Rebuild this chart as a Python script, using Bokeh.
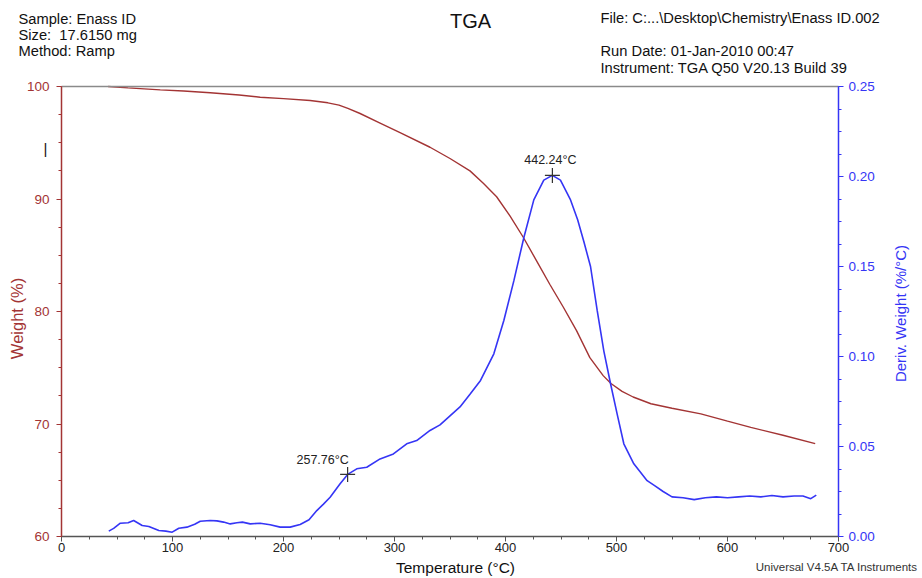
import math
from bokeh.plotting import figure
from bokeh.models import (Range1d, LinearAxis, SingleIntervalTicker,
                          FixedTicker, PrintfTickFormatter, Label)
from bokeh.embed import file_html
from bokeh.resources import INLINE

# ---------------- data ----------------
temp_w = [42, 60, 89, 110, 134, 160, 179, 200, 224, 240, 250, 258, 269, 287,
          305, 332, 350, 368, 380, 392, 404, 416, 428, 440, 452, 464, 476,
          488, 495, 505, 515, 531, 550, 576, 600, 621, 650, 679]
weight = [100.0, 99.88, 99.70, 99.60, 99.44, 99.25, 99.05, 98.92, 98.76,
          98.55, 98.35, 98.05, 97.60, 96.75, 95.90, 94.60, 93.60, 92.50,
          91.40, 90.20, 88.50, 86.60, 84.50, 82.40, 80.40, 78.30, 75.90,
          74.30, 73.60, 72.90, 72.40, 71.80, 71.40, 70.90, 70.25, 69.70,
          69.00, 68.25]

temp_d = [42.6, 47, 53, 60, 65, 72.7, 78.7, 87.7, 94, 99.7, 105.7, 113, 120,
          125, 134, 140, 146, 152, 158, 163, 170, 179, 188, 197, 206, 215,
          223, 230, 236, 242, 251, 257.8, 266, 275, 287, 299, 311, 320, 332,
          341, 350, 359, 368, 377.5, 389.5, 398.5, 407.5, 416.5, 425.5, 434.5,
          442.2, 449.5, 458.6, 465, 470.5, 476.6, 482.6, 488.6, 494.6, 500.6,
          506.6, 515.6, 527.6, 535, 542, 550, 560, 570, 580, 590, 600, 610,
          620, 630, 640, 650, 660, 668, 675, 680]
deriv = [0.0030, 0.0045, 0.0074, 0.0076, 0.0089, 0.0061, 0.0056, 0.0033,
         0.0030, 0.0024, 0.0046, 0.0052, 0.0068, 0.0085, 0.0089, 0.0087,
         0.0080, 0.0070, 0.0076, 0.0080, 0.0070, 0.0074, 0.0065, 0.0052,
         0.0052, 0.0067, 0.0093, 0.0144, 0.0180, 0.0218, 0.0293, 0.0345,
         0.0376, 0.0385, 0.0431, 0.0459, 0.0515, 0.0533, 0.0589, 0.0620,
         0.0670, 0.0720, 0.0790, 0.0867, 0.1015, 0.1200, 0.1420, 0.1660,
         0.1870, 0.1980, 0.2006, 0.1980, 0.1870, 0.1760, 0.1640, 0.1500,
         0.1256, 0.1030, 0.0850, 0.0680, 0.0515, 0.0404, 0.0310, 0.0280,
         0.0250, 0.0220, 0.0215, 0.0205, 0.0215, 0.0220, 0.0215, 0.0220,
         0.0225, 0.0220, 0.0228, 0.0220, 0.0225, 0.0225, 0.0210, 0.0230]

peak_temps = [257.76, 442.24]
peak_derivs = [0.0345, 0.2006]
peak_labels = ["257.76°C", "442.24°C"]

x_bounds = (0, 700)
w_bounds = (60, 100)
d_bounds = (0, 0.25)

header_left = ["Sample: Enass ID", "Size: \u00a017.6150 mg", "Method: Ramp"]
header_right = ["File: C:...\\Desktop\\Chemistry\\Enass ID.002",
                "Run Date: 01-Jan-2010 00:47",
                "Instrument: TGA Q50 V20.13 Build 39"]
title_text = "TGA"
x_title = "Temperature (°C)"
y_title = "Weight (%)"
y2_title = "Deriv. Weight (%/°C)"
footer = "Universal V4.5A TA Instruments"

RED = "#A33434"
BLUE = "#3535F5"
FONT = "Liberation Sans"
FW, FH = 922, 578
FRAME_L, FRAME_R, FRAME_T, FRAME_B = 61, 838, 86, 536   # plot box, px


# pixel -> data helpers (the canvas itself is the data area)
def px_x(px):
    return x_bounds[0] + (px - FRAME_L) * (x_bounds[1] - x_bounds[0]) / (FRAME_R - FRAME_L)


def py_w(py):
    return w_bounds[0] + (FRAME_B - py) * (w_bounds[1] - w_bounds[0]) / (FRAME_B - FRAME_T)


def py_d(py):
    return d_bounds[0] + (FRAME_B - py) * (d_bounds[1] - d_bounds[0]) / (FRAME_B - FRAME_T)


p = figure(width=FW, height=FH, x_range=Range1d(px_x(0), px_x(FW)),
           y_range=Range1d(py_w(FH), py_w(0)), output_backend="svg",
           toolbar_location=None, x_axis_type=None, y_axis_type=None,
           min_border=0)
p.extra_y_ranges = {"deriv": Range1d(py_d(FH), py_d(0))}
p.xgrid.visible = False
p.ygrid.visible = False
p.outline_line_color = None


def style_axis(ax, color, label_color, size, standoff):
    ax.axis_line_color = color
    ax.axis_line_width = 1.5
    ax.major_tick_line_color = color
    ax.minor_tick_line_color = color
    ax.major_tick_in = 0
    ax.major_tick_out = 5
    ax.minor_tick_in = 0
    ax.minor_tick_out = 3
    ax.major_label_text_color = label_color
    ax.major_label_text_font = FONT
    ax.major_label_text_font_size = size
    ax.major_label_standoff = standoff


xa = LinearAxis(fixed_location=w_bounds[0], bounds=x_bounds,
                ticker=SingleIntervalTicker(interval=100, num_minor_ticks=4))
style_axis(xa, "#555555", "#222222", "13px", 1)
p.add_layout(xa, "below")

ya = LinearAxis(fixed_location=x_bounds[0], bounds=w_bounds,
                ticker=SingleIntervalTicker(interval=10, num_minor_ticks=4))
style_axis(ya, RED, RED, "13.5px", 7)
p.add_layout(ya, "left")

ra = LinearAxis(y_range_name="deriv", fixed_location=x_bounds[1],
                bounds=d_bounds,
                ticker=SingleIntervalTicker(interval=0.05, num_minor_ticks=4),
                formatter=PrintfTickFormatter(format="%.2f"))
style_axis(ra, BLUE, BLUE, "13.5px", 5)
p.add_layout(ra, "right")

# top border of the plot box
ta = LinearAxis(fixed_location=w_bounds[1], bounds=x_bounds,
                ticker=FixedTicker(ticks=[]))
ta.axis_line_color = "#8a8a8a"
ta.axis_line_width = 1.5
p.add_layout(ta, "above")

# curves
p.line(temp_w, weight, line_color=RED, line_width=1.4)
p.line(temp_d, deriv, line_color=BLUE, line_width=1.6, y_range_name="deriv")
p.scatter(peak_temps, peak_derivs, marker="cross", size=15,
          line_color="#333333", line_width=1.2, y_range_name="deriv")

label_shift_px = [(-25, 14), (-2, 15)]
for t, d, txt, (ox, oy) in zip(peak_temps, peak_derivs, peak_labels,
                               label_shift_px):
    p.add_layout(Label(x=t + ox * 700.0 / 777.0, y=d + oy * 0.25 / 450.0,
                       y_range_name="deriv", text=txt, text_align="center",
                       text_baseline="middle", text_font=FONT,
                       text_font_size="12.5px", text_color="#222222"))


def put(text, px, py, size, align="left", color="#111111", angle=0.0):
    p.add_layout(Label(x=px_x(px), y=py_w(py), text=text, text_align=align,
                       text_baseline="middle", text_font=FONT,
                       text_font_size=size, text_color=color, angle=angle))


# header
for txt, yy in zip(header_left, [18, 34, 50]):
    put(txt, 18, yy, "14.7px")
for txt, yy in zip(header_right, [17, 50, 67]):
    put(txt, 600, yy, "14.7px")
put(title_text, 470, 20, "20px", align="center")

# stray cursor mark left of the axis
put("|", 45, 148, "15px", align="center")

# axis titles
put(y_title, 16, 318, "16.5px", align="center", color=RED, angle=math.pi / 2)
put(y2_title, 900, 313, "15px", align="center", color=BLUE, angle=math.pi / 2)
put(x_title, 455, 567, "15.5px", align="center")
put(footer, 918, 566, "11.5px", align="right", color="#333333")

open("out.html", "w").write(file_html(p, INLINE))
